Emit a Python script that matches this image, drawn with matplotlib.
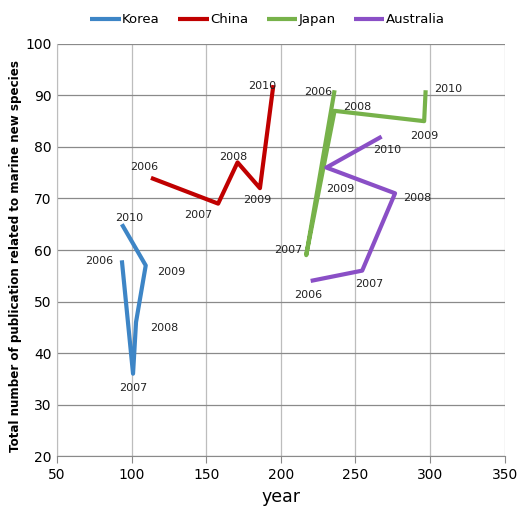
import matplotlib.pyplot as plt

years = [2006, 2007, 2008, 2009, 2010]

korea_x = [93.5, 101, 103, 109.5, 93.5]
korea_y = [58, 36, 46, 57, 65]
china_x = [113, 158, 171, 186, 195]
china_y = [74, 69, 77, 72, 92]
japan_x = [236, 217, 236, 296, 297]
japan_y = [91, 59, 87, 85, 91]
australia_x = [220, 254.5, 276.5, 230.5, 267.5]
australia_y = [54, 56, 71, 76, 82]

# label offsets (points) for each year's annotation
korea_off = [(-6, -4, 'right'), (0, -14, 'center'), (10, -8, 'left'), (8, -8, 'left'), (5, 1, 'center')]
china_off = [(-5, 4, 'center'), (-4, -12, 'right'), (-3, 0, 'center'), (-2, -12, 'center'), (2, -4, 'right')]
japan_off = [(-2, -5, 'right'), (-3, 0, 'right'), (6, -1, 'left'), (0, -14, 'center'), (6, -3, 'left')]
australia_off = [(-2, -14, 'center'), (5, -13, 'center'), (6, -7, 'left'), (10, -19, 'center'), (4, -13, 'center')]

series = [
    ('Korea', korea_x, korea_y, korea_off, '#3D85C6'),
    ('China', china_x, china_y, china_off, '#C00000'),
    ('Japan', japan_x, japan_y, japan_off, '#77B24A'),
    ('Australia', australia_x, australia_y, australia_off, '#8A4FC6'),
]

fig = plt.figure(figsize=(5.22, 5.16), dpi=100)
ax = fig.add_axes([0.109, 0.116, 0.858, 0.799])

for name, xs, ys, offs, color in series:
    ax.plot(xs, ys, color=color, linewidth=3, label=name, solid_capstyle='butt')
    for yr, x, y, (dx, dy, ha) in zip(years, xs, ys, offs):
        ax.annotate(str(yr), (x, y), xytext=(dx, dy), textcoords='offset points',
                    ha=ha, va='bottom', fontsize=8, color='#222222')

ax.set_xlim(50, 350)
ax.set_ylim(20, 100)
ax.set_xticks(range(50, 351, 50))
ax.set_yticks(range(20, 101, 10))
ax.xaxis.grid(True, color='#BDBDBD', linewidth=0.9)
ax.yaxis.grid(True, color='#8A8A8A', linewidth=0.9)
ax.set_axisbelow(True)
for s in ['top', 'right']:
    ax.spines[s].set_visible(False)
ax.spines['left'].set_color('#BDBDBD')
ax.spines['bottom'].set_color('#8A8A8A')
ax.tick_params(axis='x', length=5, color='#8A8A8A', labelsize=10)
ax.tick_params(axis='y', length=0, pad=4, labelsize=10)
ax.set_xlabel('year', fontsize=12.5)
ax.set_ylabel('Total number of publication related to marine new species',
              fontsize=8.6, fontweight='bold')
ax.yaxis.set_label_coords(-0.077, 0.485)

ax.legend(loc='lower center', bbox_to_anchor=(0.47, 1.02), ncol=4, frameon=False,
          fontsize=9.5, handlelength=2.3, handletextpad=0.1, columnspacing=1.4,
          borderaxespad=0.3)

fig.savefig('out.png', dpi=100)
